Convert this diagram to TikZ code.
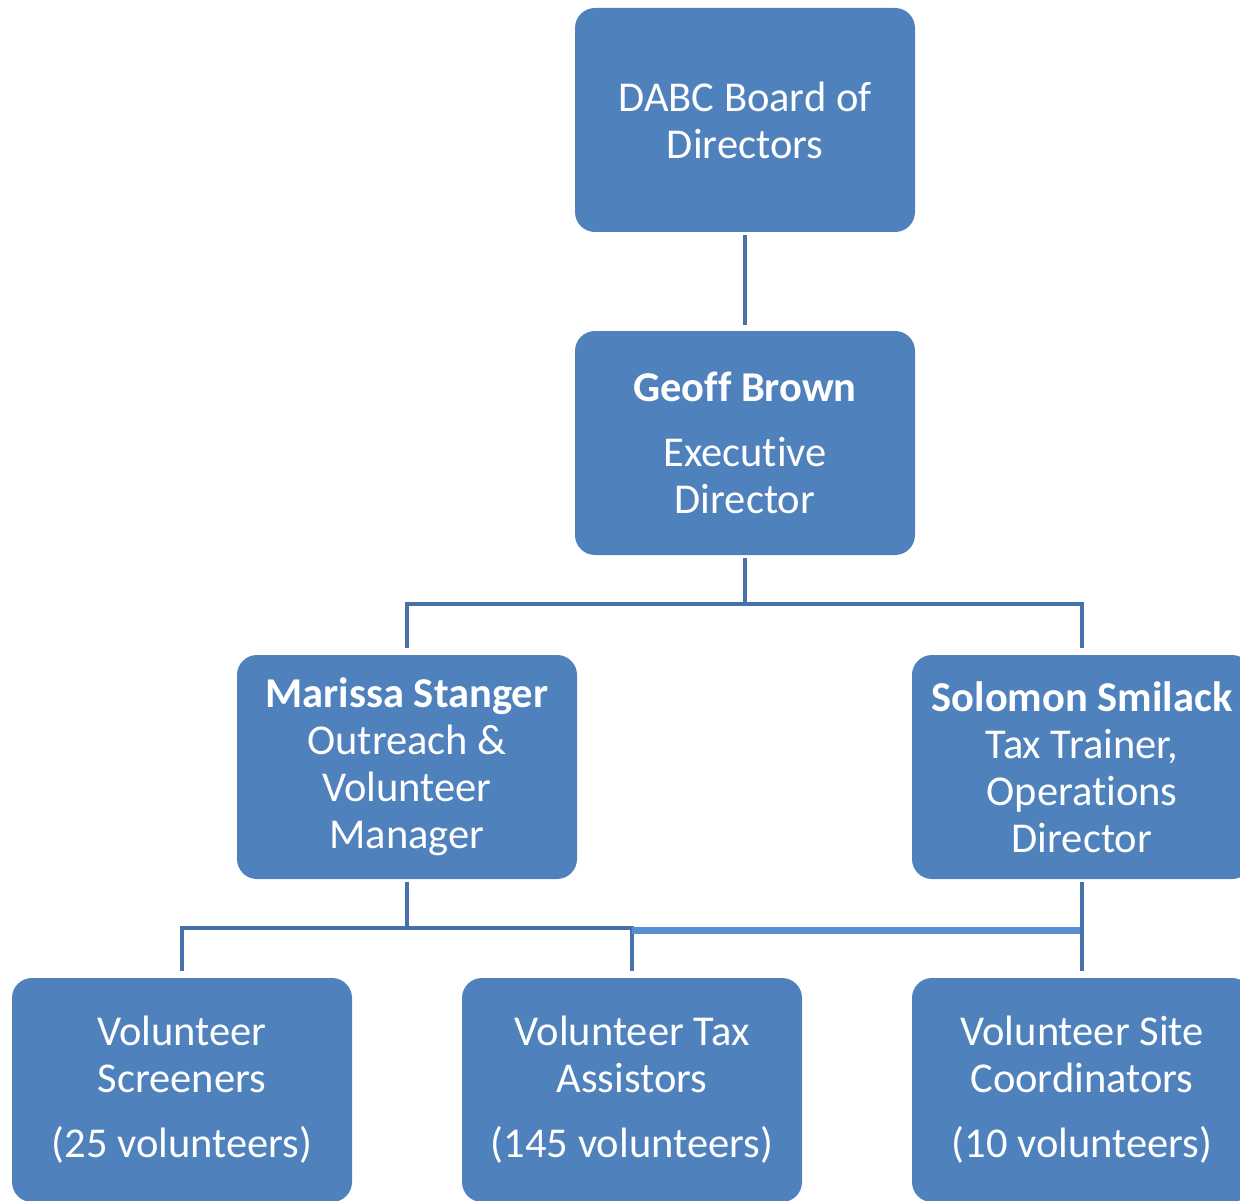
\documentclass[tikz,border=0pt]{standalone}
\usepackage{fontspec}
\setmainfont[Ligatures={NoCommon}]{Carlito}
\definecolor{boxblue}{HTML}{4F81BD}
\definecolor{linkblue}{HTML}{4671AA}
\definecolor{lightlink}{HTML}{558ED5}
\begin{document}
\begin{tikzpicture}[x=1pt,y=-1pt,
  orgbox/.style={fill=boxblue, rounded corners=20pt, minimum width=340pt, minimum height=224pt,
    inner sep=0pt, text=white, align=center, font=\fontsize{42.5}{47}\selectfont},
  link/.style={draw=linkblue, line width=4pt},
  lightline/.style={draw=lightlink, line width=7pt}]
\useasboundingbox (0,0) rectangle (1240,1201);
\clip (0,0) rectangle (1240,1201);
\node[orgbox] (board) at (745,120) {DABC Board of\\Directors};
\node[orgbox] (geoff) at (745,443) {\textbf{Geoff Brown}\\[18pt]Executive\\Director};
\node[orgbox] (marissa) at (407,767) {\textbf{Marissa Stanger}\\Outreach \&\\Volunteer\\Manager};
\node[orgbox] (solomon) at (1082,767) {\textbf{Solomon Smilack}\\Tax Trainer,\\Operations\\Director};
\node[orgbox] (screen) at (182,1090) {Volunteer\\Screeners\\[18pt](25 volunteers)};
\node[orgbox] (assist) at (632,1090) {Volunteer Tax\\Assistors\\[18pt](145 volunteers)};
\node[orgbox] (coord) at (1082,1090) {Volunteer Site\\Coordinators\\[18pt](10 volunteers)};
\coordinate (j1) at (745,604);
\coordinate (j2) at (407,928);
\coordinate (j3) at (1082,930);
\coordinate (j4) at (632,930);
\draw[link, shorten <=3pt, shorten >=6pt] (board.south) -- (geoff.north);
\draw[link, shorten <=3pt] (geoff.south) -- (j1);
\draw[link, shorten >=7pt] (j1) -| (marissa.north);
\draw[link, shorten >=7pt] (j1) -| (solomon.north);
\draw[link, shorten <=3pt] (marissa.south) -- (j2);
\draw[link, shorten >=7pt] (j2) -| (screen.north);
\draw[link, shorten >=7pt] (j2) -| (assist.north);
\draw[lightline] (j4) -- (j3);
\draw[link, shorten <=3pt, shorten >=7pt] (solomon.south) -- (coord.north);
\end{tikzpicture}
\end{document}
